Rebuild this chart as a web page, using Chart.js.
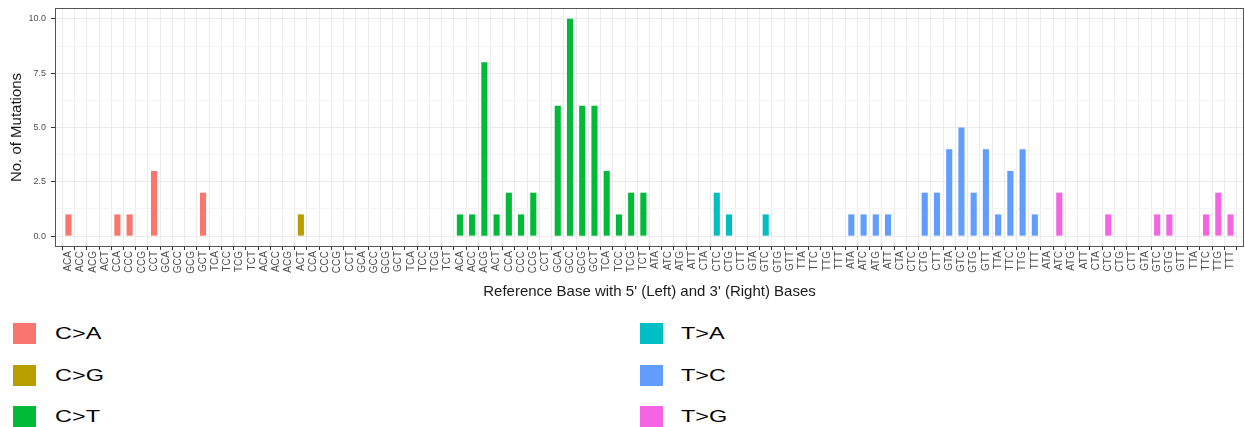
<!DOCTYPE html>
<html>
<head>
<meta charset="utf-8">
<script src="https://cdn.jsdelivr.net/npm/chart.js@4.4.1/dist/chart.umd.min.js"></script>
<style>
  html, body { margin: 0; padding: 0; background: #ffffff; }
  #wrap { position: relative; width: 1245px; height: 427px; overflow: hidden; font-family: "Liberation Sans", Arial, Helvetica, sans-serif; }
  #plot { position: absolute; left: 0; top: 0; width: 1245px; height: 305px; }
  .key { position: absolute; width: 23px; height: 21px; }
  .key-label { position: absolute; font-size: 17px; line-height: 21px; color: #000; white-space: nowrap;
               transform: scaleX(1.38); transform-origin: left center; }
</style>
</head>
<body>
<div id="wrap">
  <div id="plot"><canvas id="chart" width="1245" height="305"></canvas></div>
  <div id="legend"></div>
</div>
<script>
// Trinucleotide contexts (5' base, reference base, 3' base)
const contextsC = ["ACA","ACC","ACG","ACT","CCA","CCC","CCG","CCT","GCA","GCC","GCG","GCT","TCA","TCC","TCG","TCT"];
const contextsT = ["ATA","ATC","ATG","ATT","CTA","CTC","CTG","CTT","GTA","GTC","GTG","GTT","TTA","TTC","TTG","TTT"];

// Substitution classes and their colours
const mutationTypes = ["C>A", "C>G", "C>T", "T>A", "T>C", "T>G"];
const typeColors = ["#F8766D", "#B79F00", "#00BA38", "#00BFC4", "#619CFF", "#F564E3"];

// Mutation counts per context, one array per substitution class
const countsCA = [1,0,0,0, 1,1,0,3, 0,0,0,2, 0,0,0,0];
const countsCG = [0,0,0,1, 0,0,0,0, 0,0,0,0, 0,0,0,0];
const countsCT = [1,1,8,1, 2,1,2,0, 6,10,6,6, 3,1,2,2];
const countsTA = [0,0,0,0, 0,2,1,0, 0,1,0,0, 0,0,0,0];
const countsTC = [1,1,1,1, 0,0,2,2, 4,5,2,4, 1,3,4,1];
const countsTG = [0,2,0,0, 0,1,0,0, 0,1,1,0, 0,1,2,1];

// Y-axis ticks (major every 2.5, minor halfway between)
const yTicks = [0, 1.25, 2.5, 3.75, 5, 6.25, 7.5, 8.75, 10];

const countsByType = [countsCA, countsCG, countsCT, countsTA, countsTC, countsTG];
const labels = [];
const values = [];
const colors = [];
mutationTypes.forEach((t, k) => {
  const ctxs = t[0] === "C" ? contextsC : contextsT;
  ctxs.forEach((c, j) => {
    labels.push(c);
    values.push(countsByType[k][j]);
    colors.push(typeColors[k]);
  });
});
const points = values.map((v, i) => ({ x: i, y: v }));

const isMajor = v => Math.abs(v / 2.5 - Math.round(v / 2.5)) < 1e-9;

// Panel frame drawn round the whole plotting area
const panelBorder = {
  id: "panelBorder",
  afterDatasetsDraw(chart) {
    const { ctx, chartArea: a } = chart;
    ctx.save();
    ctx.strokeStyle = "#555555";
    ctx.lineWidth = 1;
    ctx.strokeRect(Math.round(a.left) + 0.5, Math.round(a.top) + 0.5,
                   Math.round(a.right - a.left) - 1, Math.round(a.bottom - a.top) - 1);
    ctx.restore();
  }
};

new Chart(document.getElementById("chart"), {
  type: "bar",
  data: {
    datasets: [{
      data: points,
      backgroundColor: colors,
      borderWidth: 0,
      categoryPercentage: 1,
      barPercentage: 0.5
    }]
  },
  options: {
    responsive: false,
    devicePixelRatio: 1,
    animation: false,
    layout: { padding: { top: 8, right: 1, left: 0, bottom: 0 } },
    plugins: { legend: { display: false }, tooltip: { enabled: false } },
    scales: {
      x: {
        type: "linear",
        min: -1.1,
        max: 96.1,
        offset: false,
        afterBuildTicks(scale) { scale.ticks = labels.map((_, i) => ({ value: i })); },
        afterFit(scale) { scale.height = 58; },
        ticks: {
          autoSkip: false,
          maxRotation: 90,
          minRotation: 90,
          padding: 1,
          color: "#4d4d4d",
          font: { family: "'Liberation Sans', Arial, sans-serif", size: 10 },
          callback: (v) => labels[Math.round(v)]
        },
        grid: { color: "#ebebeb", lineWidth: 1, tickColor: "#333333", tickLength: 3 },
        border: { display: false },
        title: {
          display: true,
          text: "Reference Base with 5' (Left) and 3' (Right) Bases",
          color: "#1a1a1a",
          font: { family: "'Liberation Sans', Arial, sans-serif", size: 15 },
          padding: { top: 0, bottom: 4 }
        }
      },
      y: {
        min: -0.5,
        max: 10.5,
        afterBuildTicks(scale) { scale.ticks = yTicks.map(v => ({ value: v })); },
        afterFit(scale) {
          scale.width = 55;
          scale.paddingTop = 0;
          scale.paddingBottom = 0;
        },
        ticks: {
          padding: 5,
          color: "#4d4d4d",
          font: { family: "'Liberation Sans', Arial, sans-serif", size: 9 },
          callback: (v) => isMajor(v) ? v.toFixed(1) : ""
        },
        grid: {
          color: (c) => (c.tick && isMajor(c.tick.value)) ? "#ebebeb" : "#f4f4f4",
          lineWidth: 1,
          tickColor: (c) => (c.tick && isMajor(c.tick.value)) ? "#333333" : "rgba(0,0,0,0)",
          tickLength: 4
        },
        border: { display: false },
        title: {
          display: true,
          text: "No. of Mutations",
          color: "#1a1a1a",
          font: { family: "'Liberation Sans', Arial, sans-serif", size: 15 },
          padding: { top: 8, bottom: 0 }
        }
      }
    }
  },
  plugins: [panelBorder]
});

// Legend: two columns of three keys below the plot
const legend = document.getElementById("legend");
mutationTypes.forEach((t, i) => {
  const col = Math.floor(i / 3), row = i % 3;
  const top = 323 + row * 41.5;
  const key = document.createElement("div");
  key.className = "key";
  key.style.left = (col ? 640 : 13) + "px";
  key.style.top = top + "px";
  key.style.background = typeColors[i];
  const lab = document.createElement("div");
  lab.className = "key-label";
  lab.style.left = (col ? 681 : 55) + "px";
  lab.style.top = top + "px";
  lab.textContent = t;
  legend.appendChild(key);
  legend.appendChild(lab);
});
</script>
</body>
</html>
